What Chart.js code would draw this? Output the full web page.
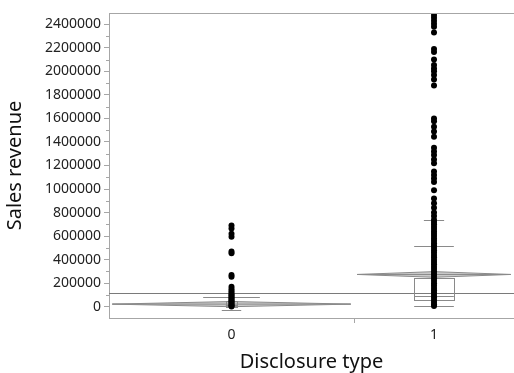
<!DOCTYPE html>
<html>
<head>
<meta charset="utf-8">
<script src="https://cdn.jsdelivr.net/npm/chart.js@4.4.1/dist/chart.umd.min.js"></script>
<style>
  html, body { margin: 0; padding: 0; background: #fff; overflow: hidden; }
  #wrap { width: 514px; height: 373px; overflow: hidden; }
</style>
</head>
<body>
<div id="wrap"><canvas id="chart" width="518" height="373"></canvas></div>
<script>
// Data
const groups = ['0', '1'];
const groupShare = [0.605, 0.395];   // JMP draws group widths proportional to n
const yTicks = [0, 200000, 400000, 600000, 800000, 1000000, 1200000, 1400000,
    1600000, 1800000, 2000000, 2200000, 2400000];

const sales0 = [690000, 665000, 620000, 595000, 470000, 455000, 270000, 255000,
    170000, 150000, 135000, 120000, 105000, 95000, 85000, 75000, 65000, 55000,
    45000, 35000, 25000, 15000, 8000, 2000];
const sales1 = [2478000, 2455000, 2430000, 2405000, 2380000, 2330000, 2190000, 2165000,
    2100000, 2055000, 2025000, 2000000, 1970000, 1930000, 1880000,
    1600000, 1575000, 1530000, 1490000, 1445000, 1350000, 1320000, 1290000, 1250000,
    1220000, 1150000, 1120000, 1090000, 1060000, 990000, 920000,
    880000, 840000, 800000, 770000, 740000, 720000, 700000, 680000, 660000, 640000,
    620000, 600000, 580000, 560000, 540000, 520000, 500000, 480000, 460000, 440000,
    420000, 400000, 380000, 360000, 340000, 320000, 300000, 280000, 260000, 240000,
    220000, 200000, 180000, 160000, 140000, 120000, 100000, 80000, 60000, 40000, 20000, 5000];

const boxQ1 = [3000, 57000];
const boxMedian = [18000, 91000];
const boxQ3 = [50000, 241000];
const whiskerLow = [-28000, 8500];
const whiskerHigh = [80000, 518000];
const upperMark = [null, 737000];
const groupMean = [22000, 274000];
const meanCI = [22000, 24000];
const grandMean = 119000;

const axisColor = '#a6a6a6';
const lineColor = '#8a8a8a';

// posisi tengah tiap grup
const groupStart = [0, groupShare[0]];
const groupCenter = groupStart.map((s, i) => s + groupShare[i] / 2);

function toPoints(values, i) {
    return values.map(v => ({ x: groupCenter[i], y: v }));
}

const overlayPlugin = {
    id: 'jmpOverlay',
    beforeDatasetsDraw(chart) {
        const { ctx, chartArea, scales } = chart;
        const xs = scales.x, ys = scales.y;
        ctx.save();
        ctx.beginPath();
        ctx.rect(chartArea.left, chartArea.top, chartArea.right - chartArea.left, chartArea.bottom - chartArea.top);
        ctx.clip();

        // grand mean
        ctx.strokeStyle = '#7a7a7a';
        ctx.lineWidth = 1;
        ctx.beginPath();
        const gy = Math.round(ys.getPixelForValue(grandMean)) + 0.5;
        ctx.moveTo(chartArea.left, gy);
        ctx.lineTo(chartArea.right, gy);
        ctx.stroke();

        groups.forEach((g, i) => {
            // means diamond
            const xl = xs.getPixelForValue(groupStart[i] + 0.008);
            const xr = xs.getPixelForValue(groupStart[i] + groupShare[i] - 0.008);
            const xc = xs.getPixelForValue(groupCenter[i]);
            const ym = ys.getPixelForValue(groupMean[i]);
            const yt = ys.getPixelForValue(groupMean[i] + meanCI[i]);
            const yb = ys.getPixelForValue(groupMean[i] - meanCI[i]);
            ctx.fillStyle = 'rgba(140,140,140,0.45)';
            ctx.strokeStyle = '#8a8a8a';
            ctx.beginPath();
            ctx.moveTo(xl, ym);
            ctx.lineTo(xc, yt);
            ctx.lineTo(xr, ym);
            ctx.lineTo(xc, yb);
            ctx.closePath();
            ctx.fill();
            ctx.stroke();
            ctx.beginPath();
            ctx.moveTo(xl, ym);
            ctx.lineTo(xr, ym);
            ctx.stroke();

            // box plot
            const bw = i === 0 ? 0.014 : 0.049;
            const bx0 = xs.getPixelForValue(groupCenter[i] - bw);
            const bx1 = xs.getPixelForValue(groupCenter[i] + bw);
            ctx.strokeStyle = lineColor;
            ctx.lineWidth = 1;
            const q3 = ys.getPixelForValue(boxQ3[i]);
            const q1 = ys.getPixelForValue(boxQ1[i]);
            ctx.strokeRect(Math.round(bx0) + 0.5, Math.round(q3) + 0.5, Math.round(bx1 - bx0), Math.round(q1 - q3));
            const hline = (v, hw) => {
                const y = Math.round(ys.getPixelForValue(v)) + 0.5;
                ctx.beginPath();
                ctx.moveTo(xs.getPixelForValue(groupCenter[i] - hw), y);
                ctx.lineTo(xs.getPixelForValue(groupCenter[i] + hw), y);
                ctx.stroke();
            };
            hline(boxMedian[i], bw);
            hline(whiskerHigh[i], i === 0 ? 0.07 : 0.049);
            hline(whiskerLow[i], i === 0 ? 0.024 : 0.049);
            if (upperMark[i] !== null) hline(upperMark[i], 0.025);
        });
        ctx.restore();
    },
    afterDraw(chart) {
        const { ctx, chartArea, scales } = chart;
        ctx.save();
        ctx.strokeStyle = axisColor;
        ctx.lineWidth = 1;
        // garis atas
        ctx.beginPath();
        ctx.moveTo(chartArea.left, chartArea.top + 0.5);
        ctx.lineTo(chartArea.right, chartArea.top + 0.5);
        ctx.stroke();
        // minor ticks sumbu y, di tengah antar label
        yTicks.forEach((v, i) => {
            const mid = i < yTicks.length - 1 ? (v + yTicks[i + 1]) / 2 : v + (v - yTicks[i - 1]) / 2;
            if (mid > scales.y.max || mid < scales.y.min) return;
            const y = Math.round(scales.y.getPixelForValue(mid)) + 0.5;
            ctx.beginPath();
            ctx.moveTo(chartArea.left - 3, y);
            ctx.lineTo(chartArea.left, y);
            ctx.stroke();
        });
        ctx.restore();
    }
};

const fontFamily = '"Noto Sans", "DejaVu Sans", sans-serif';

new Chart(document.getElementById('chart').getContext('2d'), {
    type: 'scatter',
    data: {
        datasets: [
            { label: groups[0], data: toPoints(sales0, 0), backgroundColor: '#000', borderWidth: 0, pointRadius: 3 },
            { label: groups[1], data: toPoints(sales1, 1), backgroundColor: '#000', borderWidth: 0, pointRadius: 3 }
        ]
    },
    options: {
        responsive: false,
        animation: false,
        layout: { padding: { left: 0, right: 0, top: 13, bottom: 0 } },
        plugins: {
            legend: { display: false },
            tooltip: { enabled: false }
        },
        scales: {
            x: {
                type: 'linear',
                min: 0,
                max: 1,
                afterBuildTicks(scale) {
                    scale.ticks = [{ value: groupCenter[0] }, { value: groupShare[0] }, { value: groupCenter[1] }];
                },
                afterFit(scale) { scale.height = 55; },
                ticks: {
                    autoSkip: false,
                    maxRotation: 0,
                    padding: 4,
                    color: '#222',
                    font: { family: fontFamily, size: 14 },
                    callback: (v, i) => i === 0 ? groups[0] : (i === 2 ? groups[1] : '')
                },
                grid: {
                    drawOnChartArea: false,
                    tickLength: 5,
                    tickColor: c => c.index === 1 ? axisColor : 'rgba(0,0,0,0)'
                },
                border: { color: axisColor },
                title: {
                    display: true,
                    text: 'Disclosure type',
                    color: '#111',
                    font: { family: fontFamily, size: 20 },
                    padding: { top: 4, bottom: -1 }
                }
            },
            y: {
                min: -96000,
                max: 2496000,
                afterBuildTicks(scale) {
                    scale.ticks = yTicks.map(v => ({ value: v }));
                },
                afterFit(scale) { scale.width = 109; },
                ticks: {
                    autoSkip: false,
                    padding: 3,
                    color: '#222',
                    font: { family: fontFamily, size: 14 },
                    callback: v => String(v)
                },
                grid: {
                    drawOnChartArea: false,
                    tickLength: 5,
                    tickColor: axisColor
                },
                border: { color: axisColor },
                title: {
                    display: true,
                    text: 'Sales revenue',
                    color: '#111',
                    font: { family: fontFamily, size: 20 },
                    padding: { top: 3, bottom: 0 }
                }
            }
        }
    },
    plugins: [overlayPlugin]
});
</script>
</body>
</html>
